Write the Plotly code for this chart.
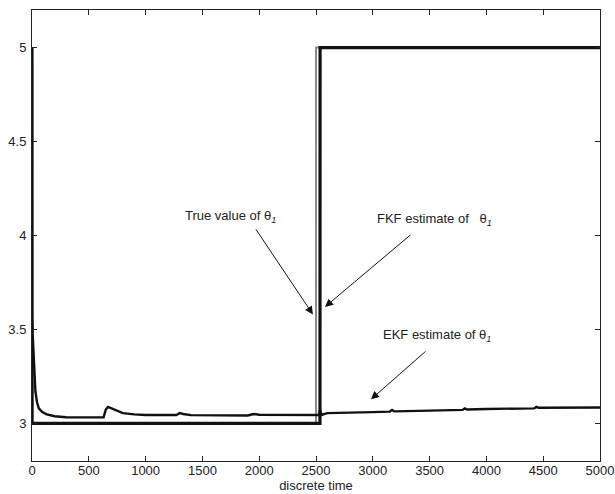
import plotly.graph_objects as go

# True value of theta_1
true_t = [0, 2500, 2500, 5000]
true_val = [3, 3, 5, 5]

# FKF estimate of theta_1
fkf_t = [0, 1, 2535, 2536, 5000]
fkf_val = [5, 3, 3, 5, 5]

# EKF estimate of theta_1
ekf_t = [0, 8, 15, 22, 30, 45, 60, 90, 130, 200, 300, 630, 650, 670, 700, 750, 800, 900,
         1000, 1270, 1300, 1330, 1400, 1900, 1950, 2000, 2500, 2525, 2535, 2550, 2570, 2600,
         3000, 3150, 3170, 3190, 3500, 3790, 3810, 3830, 4000, 4420, 4440, 4460, 5000]
ekf_val = [3.55, 3.45, 3.35, 3.25, 3.17, 3.11, 3.08, 3.06, 3.048, 3.038, 3.033, 3.032, 3.075,
           3.088, 3.08, 3.065, 3.055, 3.048, 3.045, 3.045, 3.055, 3.05, 3.044, 3.042, 3.05,
           3.046, 3.045, 3.045, 3.07, 3.045, 3.05, 3.055, 3.06, 3.063, 3.072, 3.064, 3.068,
           3.072, 3.08, 3.074, 3.077, 3.08, 3.088, 3.083, 3.085]

x_ticks = [0, 500, 1000, 1500, 2000, 2500, 3000, 3500, 4000, 4500, 5000]
y_ticks = [3, 3.5, 4, 4.5, 5]
y_tick_labels = ["3", "3.5", "4", "4.5", "5"]

fig = go.Figure()
fig.add_trace(go.Scatter(x=true_t, y=true_val, mode="lines",
                         line=dict(color="#8a8a8a", width=2), showlegend=False))
fig.add_trace(go.Scatter(x=ekf_t, y=ekf_val, mode="lines",
                         line=dict(color="#111111", width=2.4), showlegend=False))
fig.add_trace(go.Scatter(x=fkf_t, y=fkf_val, mode="lines",
                         line=dict(color="#111111", width=3.2), showlegend=False))

font = dict(family="Liberation Sans, Arial, sans-serif", size=13, color="#222222")
theta = "θ<sub><i>1</i></sub>"

annotations = [
    dict(x=1743, y=4.10, text="True value of " + theta, showarrow=False),
    dict(x=3547, y=4.085, text="FKF estimate of   " + theta, showarrow=False),
    dict(x=3565, y=3.47, text="EKF estimate of " + theta, showarrow=False),
    dict(x=2473, y=3.58, ax=1963, ay=4.04, text=""),
    dict(x=2579, y=3.62, ax=3345, ay=4.01, text=""),
    dict(x=2984, y=3.128, ax=3477, ay=3.39, text=""),
]
for a in annotations:
    a.update(xref="x", yref="y", font=font)
    if a["text"] == "":
        a.update(showarrow=True, axref="x", ayref="y", arrowhead=2, arrowsize=1.6,
                 arrowwidth=1, arrowcolor="#111111")

fig.update_layout(
    width=615, height=494,
    margin=dict(l=32, r=15, t=10, b=33),
    paper_bgcolor="white", plot_bgcolor="white",
    font=font,
    annotations=annotations,
    xaxis=dict(range=[0, 5000], tickvals=x_ticks, ticks="inside", ticklen=5,
               tickcolor="#222222", showline=True, linecolor="#222222", linewidth=1,
               mirror="ticks", showgrid=False, zeroline=False, automargin=False,
               ticklabelstandoff=-3,
               title=dict(text="discrete time", standoff=0, font=font)),
    yaxis=dict(range=[2.8, 5.2], tickvals=y_ticks, ticktext=y_tick_labels,
               ticks="inside", ticklen=5, tickcolor="#222222", showline=True,
               linecolor="#222222", linewidth=1, mirror="ticks", showgrid=False,
               zeroline=False, automargin=False, ticklabelstandoff=2),
)

fig.write_html("out.html", config={"displayModeBar": False},
               post_script="document.body.style.margin='0px';")
